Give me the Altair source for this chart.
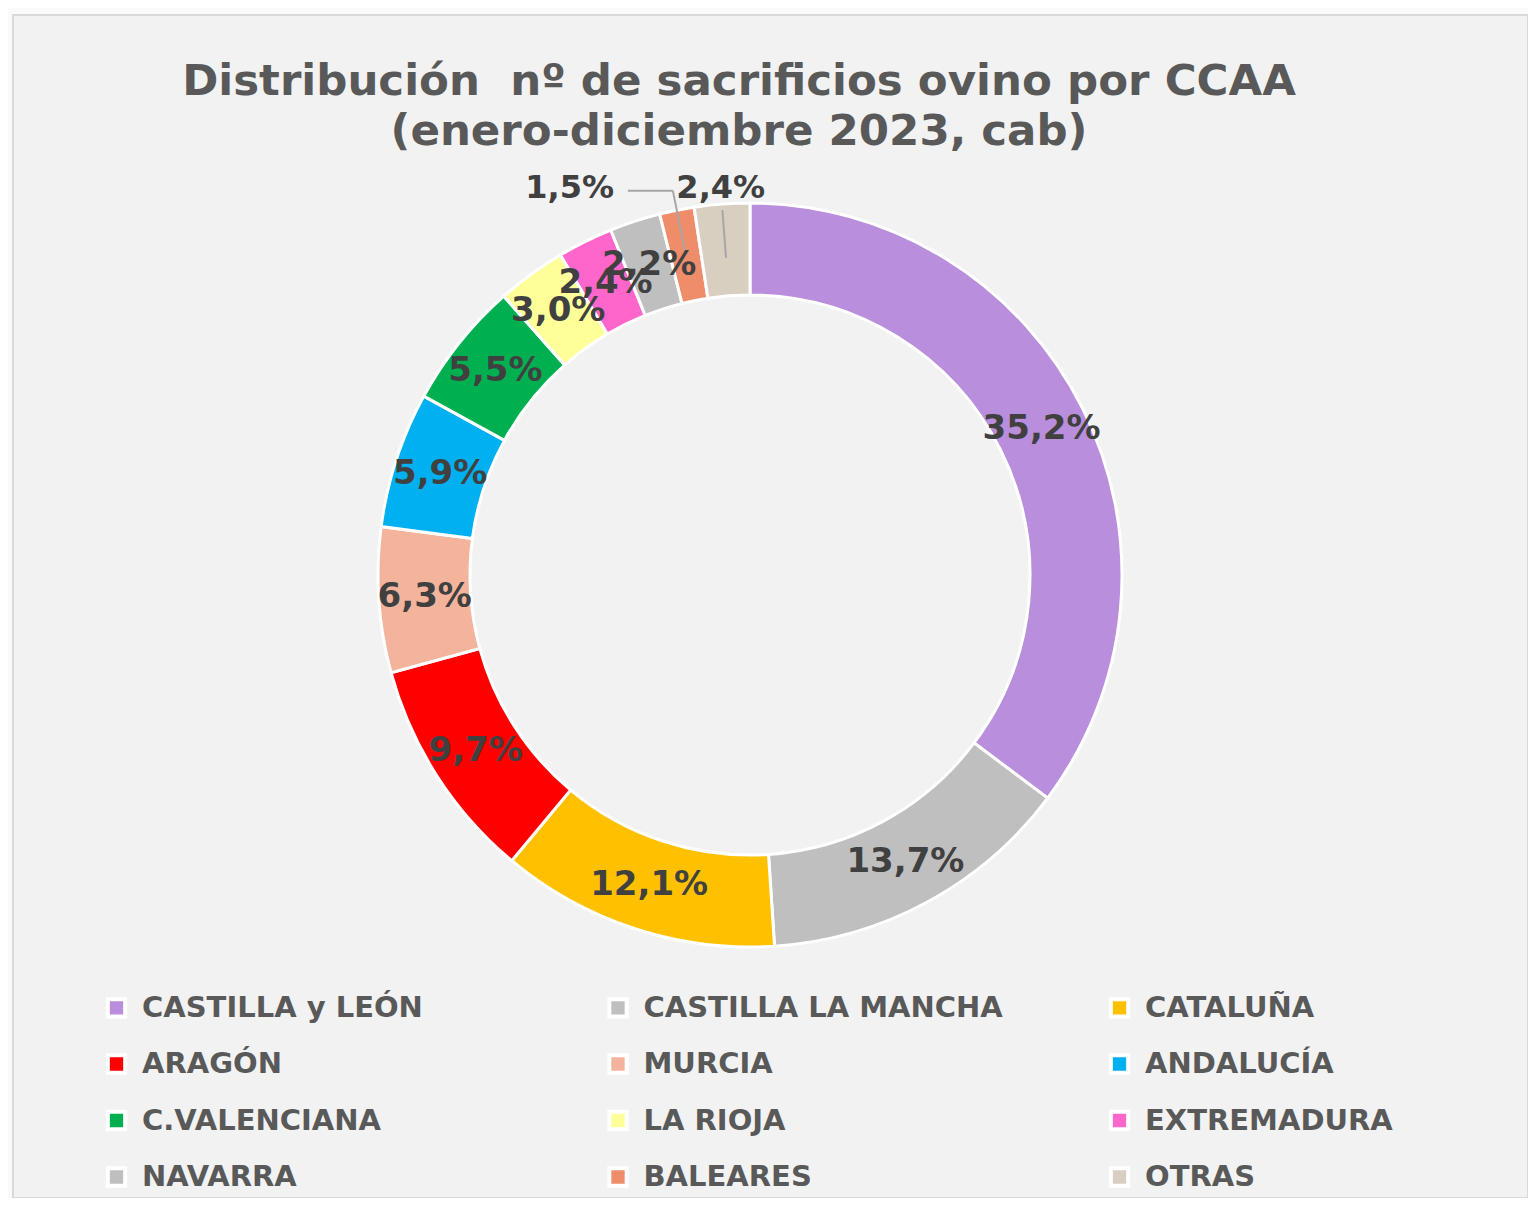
import altair as alt
import pandas as pd

regions = ["CASTILLA y LEÓN", "CASTILLA LA MANCHA", "CATALUÑA", "ARAGÓN", "MURCIA",
           "ANDALUCÍA", "C.VALENCIANA", "LA RIOJA", "EXTREMADURA", "NAVARRA",
           "BALEARES", "OTRAS"]
shares = [35.2, 13.7, 12.1, 9.7, 6.3, 5.9, 5.5, 3.0, 2.4, 2.2, 1.5, 2.4]
colors = ["#b98edc", "#bfbfbf", "#ffc000", "#ff0000", "#f4b39b", "#00b0f0",
          "#00b050", "#ffff99", "#ff66cc", "#bfbfbf", "#ef8c6a", "#d8cfc0"]
title_lines = ["Distribución\u00a0 nº de sacrificios ovino por CCAA", "(enero-diciembre 2023, cab)"]

df = pd.DataFrame({"region": regions, "share": shares, "order": list(range(len(regions)))})

W, H = 1515, 1183
CX, CY = 737, 560
R_OUT, R_IN = 372, 280
R_MID = (R_OUT + R_IN) / 2
FONT = "DejaVu Sans"

color = alt.Color(
    "region:N",
    scale=alt.Scale(domain=regions, range=colors),
    legend=alt.Legend(
        title=None, orient="none", legendX=89, legendY=978, columns=3,
        direction="horizontal",
        columnPadding=98.5, rowPadding=21.5, gridAlign="all",
        symbolType="square", symbolSize=300, symbolStrokeColor="white",
        symbolStrokeWidth=4, labelFont=FONT, labelFontWeight="bold",
        labelFontSize=29, labelColor="#595959", labelLimit=700, labelOffset=11,
    ),
)

arcs = alt.Chart(df).mark_arc(
    outerRadius=R_OUT, innerRadius=R_IN, stroke="white", strokeWidth=3
).encode(
    theta=alt.Theta("share:Q", stack=True),
    color=color,
    order=alt.Order("order:Q"),
    x=alt.value(CX), y=alt.value(CY),
)

pos = alt.Chart(df).transform_joinaggregate(
    total="sum(share)"
).transform_window(
    cum="sum(share)", sort=[alt.SortField("order")], frame=[None, 0]
).transform_calculate(
    a="2*PI*(datum.cum - datum.share/2)/datum.total",
    lbl="replace(format(datum.share, '.1f'), '.', ',') + '%'",
    out="datum.region == 'BALEARES' || datum.region == 'OTRAS'",
)

inside = pos.transform_filter("!datum.out").transform_calculate(
    px=f"{CX} + {R_MID}*sin(datum.a)", py=f"{CY} - {R_MID}*cos(datum.a)"
).mark_text(font=FONT, fontWeight="bold", fontSize=34, color="#404040").encode(
    x=alt.X("px:Q", scale=None), y=alt.Y("py:Q", scale=None), text="lbl:N"
)

outside = pos.transform_filter("datum.out").transform_calculate(
    px=f"{CX} + 388*sin(datum.a) + (datum.region == 'BALEARES' ? -104 : 0)",
    py=f"{CY} - 388*cos(datum.a) + (datum.region == 'BALEARES' ? -7 : 0)",
).mark_text(font=FONT, fontWeight="bold", fontSize=32, color="#404040").encode(
    x=alt.X("px:Q", scale=None), y=alt.Y("py:Q", scale=None), text="lbl:N"
)

leaders = pos.transform_filter("datum.out").transform_calculate(
    r1=f"datum.region == 'OTRAS' ? 318 : {R_MID}",
    r2="datum.region == 'OTRAS' ? 366 : 392",
).transform_calculate(
    x1=f"{CX} + datum.r1*sin(datum.a)", y1=f"{CY} - datum.r1*cos(datum.a)",
    x2=f"{CX} + datum.r2*sin(datum.a)", y2=f"{CY} - datum.r2*cos(datum.a)",
).mark_rule(color="#a6a6a6", strokeWidth=2).encode(
    x=alt.X("x1:Q", scale=None), y=alt.Y("y1:Q", scale=None),
    x2="x2:Q", y2="y2:Q",
)

elbow = pos.transform_filter("datum.region == 'BALEARES'").transform_calculate(
    x2=f"{CX} + 392*sin(datum.a)", y2=f"{CY} - 392*cos(datum.a)",
).transform_calculate(x3="datum.x2 - 45").mark_rule(color="#a6a6a6", strokeWidth=2).encode(
    x=alt.X("x2:Q", scale=None), y=alt.Y("y2:Q", scale=None), x2="x3:Q"
)

title = alt.Chart(pd.DataFrame({"t": ["\n".join(title_lines)]})).mark_text(
    font=FONT, fontWeight="bold", fontSize=43.5, color="#595959",
    lineBreak="\n", lineHeight=50, align="center", baseline="middle",
).encode(text="t:N", x=alt.value(726), y=alt.value(67))

chart = alt.layer(arcs, leaders, elbow, inside, outside, title).properties(
    width=W, height=H,
    padding={"left": 5, "top": 7, "right": 0, "bottom": 0},
    background="#fafafa",
).configure_view(fill="#f2f2f2", stroke="#d9d9d9", strokeWidth=2)

chart.save("out.html", embed_options={"renderer": "svg", "actions": False})
